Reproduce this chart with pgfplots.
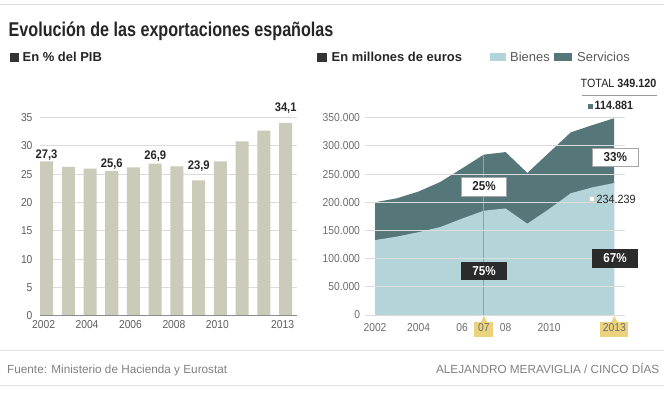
\documentclass[border=0pt]{standalone}
\usepackage{pgfplots}
\pgfplotsset{compat=1.18}
\usepackage{fontspec}
\setmainfont{Liberation Sans}
\newfontfamily\condA[FakeStretch=0.81]{Liberation Sans}
\newfontfamily\condB[FakeStretch=0.9]{Liberation Sans}
\definecolor{barc}{HTML}{CACBB8}
\definecolor{bienes}{HTML}{B3D5DA}
\definecolor{serv}{HTML}{557779}
\definecolor{darkbox}{HTML}{2B2B2B}
\definecolor{hl}{HTML}{EBD27D}
\definecolor{gridc}{HTML}{DCDCDC}
\definecolor{tickc}{HTML}{5E5E5E}
\definecolor{tickr}{HTML}{6E6E6E}
\definecolor{vline}{HTML}{8FA6A8}
\begin{document}
\begin{tikzpicture}[x=1bp,y=1bp]
\path[use as bounding box] (0,0) rectangle (664,392);
\fill[white] (0,0) rectangle (664,392);
% frame lines
\draw[gridc, line width=1bp] (0,387) -- (664,387);
\draw[gridc!80, line width=1bp] (0,41.3) -- (664,41.3);
\draw[gridc!80, line width=1bp] (0,7) -- (664,7);
% title
\node[anchor=base west, inner sep=0, font=\condA\bfseries\fontsize{20}{20}\selectfont, text=black!85] at (8.5,356) {Evolución de las exportaciones españolas};
% headers
\fill[black!80] (10,330.3) rectangle (18.5,338.8);
\node[anchor=base west, inner sep=0, font=\bfseries\fontsize{13}{13}\selectfont, text=black!85] at (22.5,330.5) {En \% del PIB};
\fill[black!80] (317.3,330.3) rectangle (326.5,339.3);
\node[anchor=base west, inner sep=0, font=\bfseries\fontsize{13}{13}\selectfont, text=black!85] at (331.5,330.5) {En millones de euros};
\fill[bienes] (490,331) rectangle (506,339.5);
\node[anchor=base west, inner sep=0, font=\fontsize{13}{13}\selectfont, text=black!65] at (510,330.5) {Bienes};
\fill[serv] (554,331) rectangle (572,339.5);
\node[anchor=base west, inner sep=0, font=\fontsize{13}{13}\selectfont, text=black!65] at (577,330.5) {Servicios};
% highlight boxes for ticks
\fill[hl] (474,55.3) rectangle (493.3,70.3);
\fill[hl] (481,70.2) -- (484,76) -- (487,70.2) -- cycle;
\fill[hl] (600,55.3) rectangle (628.3,70.3);
\fill[hl] (611.3,70.2) -- (614.3,76) -- (617.3,70.2) -- cycle;

% ---------- left chart ----------
\begin{axis}[at={(40bp,76.3bp)}, anchor=south west, scale only axis,
  width=256.7bp, height=198bp,
  xmin=2001.70, xmax=2013.507, ymin=0, ymax=35,
  ytick={0,5,10,15,20,25,30,35},
  yticklabels={0,5,10,15,20,25,30,35},
  xtick={2002,2004,2006,2008,2010,2013},
  xticklabels={2002,2004,2006,2008,2010,2013},
  ymajorgrids, grid style={gridc, line width=1bp},
  axis line style={draw=none}, major tick length=0, tick style={draw=none},
  ticklabel style={font=\condB\fontsize{11.5}{12}\selectfont, text=tickc},
  xticklabel style={xshift=-3bp, yshift=-1.5bp},
  yticklabel style={xshift=-4bp},
  clip=false]
\addplot[ybar, fill=barc, draw=none, bar width=13bp] coordinates {
(2002,27.3) (2003,26.3) (2004,26.0) (2005,25.6) (2006,26.2) (2007,26.9)
(2008,26.4) (2009,23.9) (2010,27.3) (2011,30.8) (2012,32.7) (2013,34.1)};
\draw[black!45, line width=1bp] (axis cs:2001.70,0) -- (axis cs:2013.507,0);
\begin{scope}[every node/.style={anchor=base, inner sep=0, font=\condB\bfseries\fontsize{12.5}{12.5}\selectfont, text=black!85}]
\node at (axis cs:2002,27.82) {27,3};
\node at (axis cs:2005,26.23) {25,6};
\node at (axis cs:2007,27.65) {26,9};
\node at (axis cs:2009,25.76) {23,9};
\node at (axis cs:2013,36.06) {34,1};
\end{scope}
\end{axis}

% ---------- right chart ----------
\begin{axis}[at={(365bp,77bp)}, anchor=south west, scale only axis,
  width=260bp, height=197.3bp,
  xmin=2001.54, xmax=2013.49, ymin=0, ymax=350000,
  ytick={0,50000,100000,150000,200000,250000,300000,350000},
  yticklabels={0,50.000,100.000,150.000,200.000,250.000,300.000,350.000},
  scaled y ticks=false,
  xtick={2002,2004,2006,2007,2008,2010,2013},
  xticklabels={2002,2004,06,07,08,2010,2013},
  ymajorgrids, grid style={gridc, line width=1bp},
  axis on top,
  axis line style={draw=none}, major tick length=0, tick style={draw=none},
  ticklabel style={font=\condB\fontsize{11.5}{12}\selectfont, text=tickr},
  xticklabel style={yshift=-5bp},
  yticklabel style={xshift=-1.5bp},
  clip=false]
\addplot[fill=serv, draw=none] coordinates {
(2002,200000) (2003,207000) (2004,219000) (2005,236000) (2006,260000) (2007,284500)
(2008,289000) (2009,252000) (2010,288000) (2011,324000) (2012,337000) (2013,349120)} \closedcycle;
\addplot[fill=bienes, draw=none] coordinates {
(2002,133000) (2003,139000) (2004,147000) (2005,156000) (2006,171000) (2007,185000)
(2008,189000) (2009,162000) (2010,188000) (2011,216000) (2012,226500) (2013,234239)} \closedcycle;
\draw[black!50, line width=1bp] (axis cs:2001.54,0) -- (axis cs:2013.49,0);
\draw[vline, line width=1.3bp] (axis cs:2007,0) -- (axis cs:2007,284500);
\draw[white, opacity=0.6, line width=0.8bp] (axis cs:2013,0) -- (axis cs:2013,349120);
\end{axis}

% annotations right chart
\node[draw=black!35, fill=white, line width=0.8bp, minimum width=45bp, minimum height=19bp, inner sep=0, font=\condB\bfseries\fontsize{13}{13}\selectfont, text=black!85] at (484,205.5) {25\%};
\node[fill=darkbox, minimum width=46bp, minimum height=18.5bp, inner sep=0, font=\condB\bfseries\fontsize{13}{13}\selectfont, text=white] at (484,121) {75\%};
\node[draw=black!35, fill=white, line width=0.8bp, minimum width=46bp, minimum height=18.5bp, inner sep=0, font=\condB\bfseries\fontsize{13}{13}\selectfont, text=black!85] at (615.3,234.5) {33\%};
\node[fill=darkbox, minimum width=46bp, minimum height=19bp, inner sep=0, font=\condB\bfseries\fontsize{13}{13}\selectfont, text=white] at (615,134) {67\%};
% values
\node[anchor=base east, inner sep=0, font=\condB\fontsize{12}{12}\selectfont, text=black!85] at (656.5,304.7) {TOTAL \textbf{349.120}};
\draw[black!40, line width=0.8bp] (581.7,297) -- (656.7,297);
\fill[serv] (588,283.5) rectangle (593,288.5);
\node[anchor=base west, inner sep=0, font=\condB\bfseries\fontsize{12}{12}\selectfont, text=black!85] at (594.5,282.7) {114.881};
\draw[black!20, fill=white, line width=0.6bp] (589.3,190.3) rectangle (593.8,195.3);
\node[anchor=base west, inner sep=0, font=\condB\fontsize{12}{12}\selectfont, text=black!85] at (596.5,188.7) {234.239};
% footer
\node[anchor=base west, inner sep=0, font=\fontsize{11.8}{12}\selectfont, text=black!50] at (7,18.7) {Fuente: Ministerio de Hacienda y Eurostat};
\node[anchor=base east, inner sep=0, font=\fontsize{11.8}{12}\selectfont, text=black!50] at (659.5,18.7) {ALEJANDRO MERAVIGLIA / CINCO DÍAS};
\end{tikzpicture}
\end{document}
